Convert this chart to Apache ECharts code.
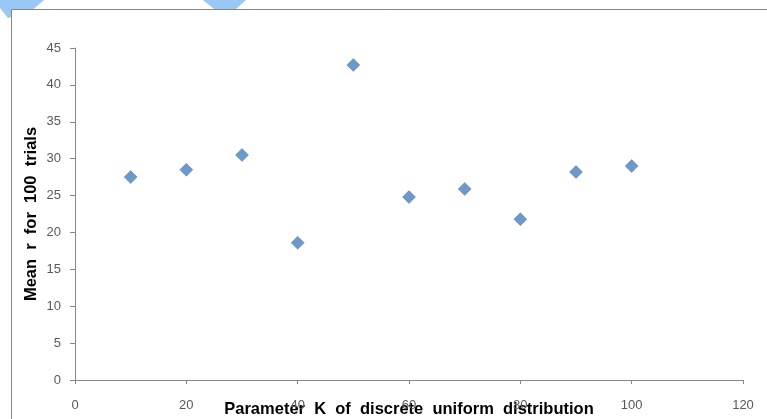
<!DOCTYPE html>
<html><head><meta charset="utf-8">
<script src="https://cdn.jsdelivr.net/npm/echarts@6/dist/echarts.min.js"></script>
<style>html,body{margin:0;padding:0;background:#fff}#c{width:767px;height:419px}</style>
</head><body><div id="c"></div>
<script>
var kValues = [10, 20, 30, 40, 50, 60, 70, 80, 90, 100];
var meanR = [27.5, 28.5, 30.5, 18.6, 42.7, 24.8, 25.9, 21.8, 28.2, 29.0];
var xTitle = 'Parameter  K  of  discrete  uniform  distribution';
var yTitle = 'Mean  r  for  100  trials';

var chart = echarts.init(document.getElementById('c'), null, {renderer: 'canvas'});
var pts = kValues.map(function (k, i) { return [k, meanR[i]]; });
var labelStyle = {color: '#595959', fontFamily: 'Liberation Sans', fontSize: 13};
chart.setOption({
  animation: false,
  graphic: [
    {type: 'polygon', z: -10, shape: {points: [[0,0],[44,0],[30,12],[8,18],[0,8]]}, style: {fill: '#99c8f5'}},
    {type: 'polygon', z: -10, shape: {points: [[203,0],[246,0],[236,9],[214,9]]}, style: {fill: '#99c8f5'}},
    {type: 'rect', z: -5, shape: {x: 11.5, y: 9.5, width: 800, height: 500}, style: {fill: '#fff', stroke: '#868686', lineWidth: 1}}
  ],
  grid: {left: 75, right: 24, top: 48, bottom: 39, outerBoundsMode: 'none', containLabel: false},
  xAxis: {
    type: 'value', min: 0, max: 120, interval: 20,
    splitLine: {show: false},
    axisLine: {lineStyle: {color: '#868686'}},
    axisTick: {show: true, length: 4, lineStyle: {color: '#868686'}},
    axisLabel: Object.assign({margin: 19}, labelStyle),
    name: xTitle, nameLocation: 'middle', nameGap: 21, nameMoveOverlap: false,
    nameTextStyle: {fontFamily: 'Liberation Sans', fontWeight: 'bold', fontSize: 16.5, color: '#000'}
  },
  yAxis: {
    type: 'value', min: 0, max: 45, interval: 5,
    splitLine: {show: false},
    axisLine: {show: true, lineStyle: {color: '#868686'}},
    axisTick: {show: true, length: 5, lineStyle: {color: '#868686'}},
    axisLabel: Object.assign({margin: 14}, labelStyle),
    name: yTitle, nameLocation: 'middle', nameGap: 35, nameMoveOverlap: false,
    nameTextStyle: {fontFamily: 'Liberation Sans', fontWeight: 'bold', fontSize: 16.5, color: '#000'}
  },
  series: [{
    type: 'scatter', data: pts, symbol: 'diamond', symbolSize: 13,
    itemStyle: {color: '#4a7ebb', borderColor: '#3f6fa8', borderWidth: 0.5}
  }]
});
</script></body></html>
